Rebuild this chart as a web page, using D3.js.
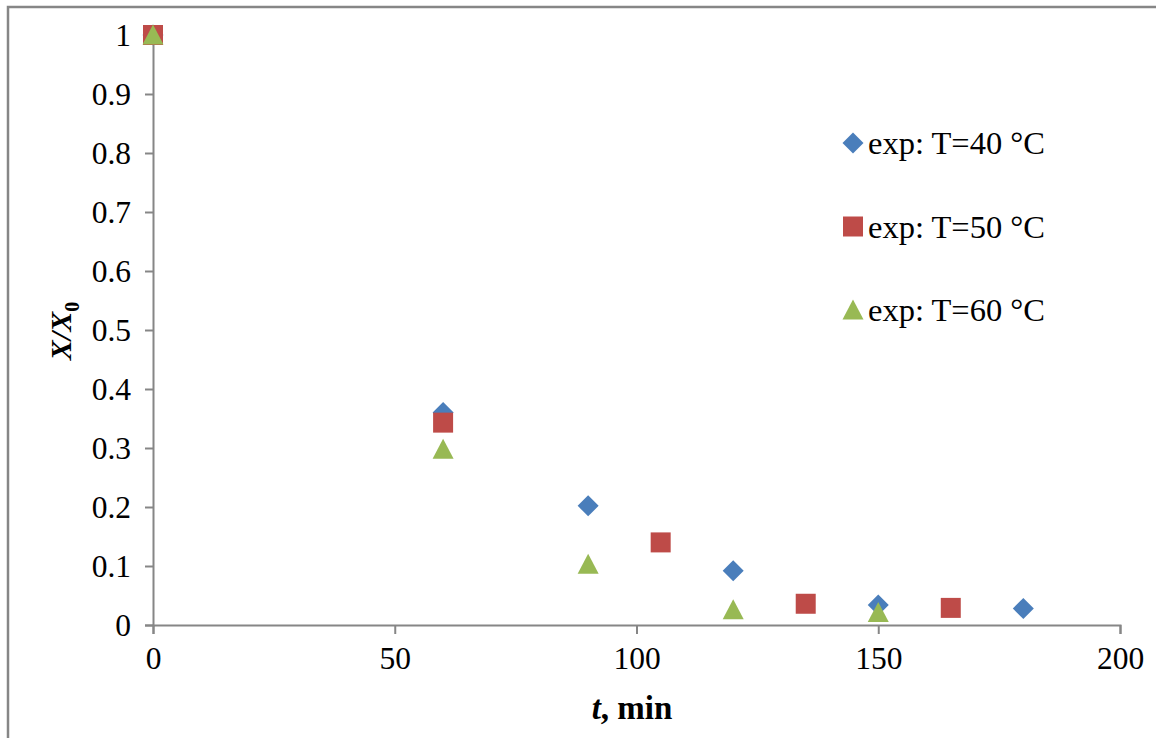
<!DOCTYPE html>
<html><head><meta charset="utf-8">
<script src="https://cdn.jsdelivr.net/npm/d3@7"></script>
<style>body{margin:0;background:#fff}svg{display:block}</style>
</head><body>
<svg id="c" width="1156" height="738"></svg>
<script>
const seriesNames = ["exp: T=40 °C", "exp: T=50 °C", "exp: T=60 °C"];
const t40 = [0, 60, 90, 120, 150, 180];
const x40 = [1, 0.36, 0.202, 0.092, 0.034, 0.028];
const t50 = [0, 60, 105, 135, 165];
const x50 = [1, 0.343, 0.14, 0.036, 0.029];
const t60 = [0, 60, 90, 120, 150];
const x60 = [1, 0.298, 0.103, 0.026, 0.021];
const xTicks = [0, 50, 100, 150, 200];
const yTicks = [0, 0.1, 0.2, 0.3, 0.4, 0.5, 0.6, 0.7, 0.8, 0.9, 1];

const svg = d3.select("#c");
const font = "'Liberation Serif','Times New Roman',serif";
svg.append("rect").attr("x", 8).attr("y", 7).attr("width", 1170).attr("height", 760)
  .attr("fill", "#fff").attr("stroke", "#868686").attr("stroke-width", 2.5);

const x = d3.scaleLinear().domain([0, 200]).range([153, 1120]);
const y = d3.scaleLinear().domain([0, 1]).range([625, 35]);

const xa = svg.append("g").attr("transform", "translate(0,625)")
  .call(d3.axisBottom(x).tickValues(xTicks).tickSize(9).tickPadding(13).tickFormat(d3.format("d")));
const ya = svg.append("g").attr("transform", "translate(153,0)")
  .call(d3.axisLeft(y).tickValues(yTicks).tickSize(8).tickPadding(14).tickFormat(d => d === 0 || d === 1 ? String(d) : d3.format(".1f")(d)));
[xa, ya].forEach(a => {
  a.select(".domain").attr("stroke", "#868686").attr("stroke-width", 2);
  a.selectAll(".tick line").attr("stroke", "#868686").attr("stroke-width", 2);
  a.selectAll("text").attr("font-family", font).attr("font-size", 31.5).attr("fill", "#000");
});

const colors = ["#4a7ebb", "#be4b48", "#98b954"];
const data = [[t40, x40], [t50, x50], [t60, x60]];

function pathFor(i) {
  if (i === 0) return "M0,-10.5L10.5,0L0,10.5L-10.5,0Z";
  if (i === 1) return "M-10,-10L10,-10L10,10L-10,10Z";
  return "M0,-10.5L10.5,9.5L-10.5,9.5Z";
}

data.forEach((s, i) => {
  const pts = s[0].map((t, k) => [t, s[1][k]]);
  svg.append("g").selectAll("path").data(pts).join("path")
    .attr("d", pathFor(i))
    .attr("transform", d => `translate(${x(d[0])},${y(d[1])})`)
    .attr("fill", colors[i]);
});

// legend
const lg = svg.append("g");
seriesNames.forEach((n, i) => {
  const yy = 143 + i * 83.5;
  lg.append("path").attr("d", pathFor(i)).attr("transform", `translate(853,${yy})`).attr("fill", colors[i]);
  lg.append("text").attr("x", 868).attr("y", yy + 11).attr("font-family", font).attr("font-size", 32.5).text(n);
});

// axis titles
const xt = svg.append("text").attr("x", 632).attr("y", 719).attr("text-anchor", "middle")
  .attr("font-family", font).attr("font-size", 33).attr("font-weight", "bold");
xt.append("tspan").attr("font-style", "italic").text("t");
xt.append("tspan").text(", min");

const yt = svg.append("text").attr("transform", "translate(71,331) rotate(-90)").attr("text-anchor", "middle")
  .attr("font-family", font).attr("font-size", 30).attr("font-weight", "bold");
yt.append("tspan").attr("font-style", "italic").text("X/X");
yt.append("tspan").attr("font-size", 20).attr("dy", 8).text("0");
</script>
</body></html>
